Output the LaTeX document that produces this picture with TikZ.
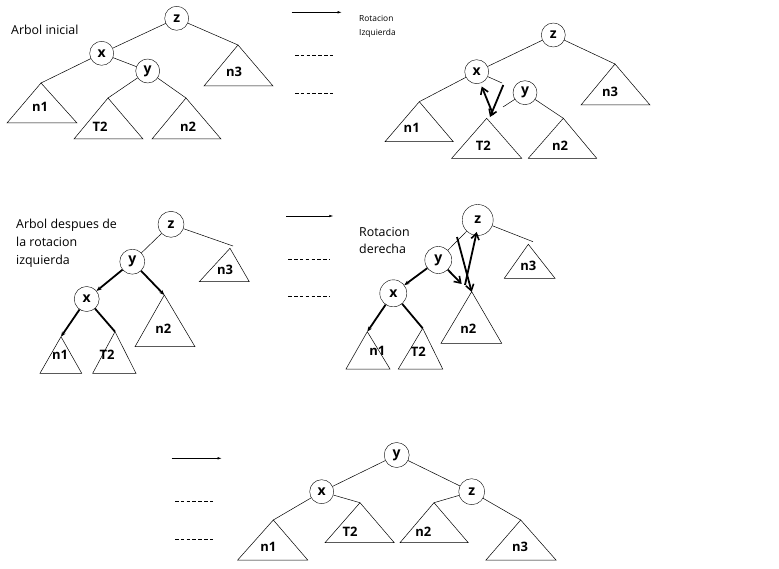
\documentclass[tikz,border=0pt]{standalone}
\usepackage{fontspec}
\setmainfont{Open Sans}
\usetikzlibrary{arrows.meta}
\begin{document}
\begin{tikzpicture}[x=1pt,y=-1pt,
  nd/.style={circle,draw,inner sep=0pt,minimum size=24pt,font=\fontsize{14}{14}\selectfont\bfseries},
  tri/.style={draw,line width=0.5pt},
  lnk/.style={line width=0.5pt},
  thk/.style={line width=1.8pt},
  handarr/.style={line width=1.8pt,-{Straight Barb[length=6pt,width=8pt,line width=1.6pt]}},
  thktip/.style={line width=1.8pt,-{Stealth[length=5pt,width=4pt]}},
  lab/.style={font=\fontsize{13}{13}\selectfont\bfseries,inner sep=0pt},
  captxt/.style={align=left,anchor=west,inner sep=0pt,font=\fontsize{12.4}{18.3}\selectfont},
  arr/.style={line width=0.5pt,-{Latex[length=4pt,width=2.5pt]}},
  dsh/.style={line width=0.5pt,dash pattern=on 3.5pt off 2.3pt}]
\fill[white] (0,0) rectangle (779,569);
\useasboundingbox (0,0) rectangle (779,569);

% ===== Panel 1: Arbol inicial
\node[captxt,font=\fontsize{12.4}{14}\selectfont] (c1) at (11,30) {Arbol inicial};
\node[nd] (az) at (176.7,18.3) {z};
\node[nd] (ax) at (101.7,53.3) {x};
\node[nd] (ay) at (147.7,71) {y};
\coordinate (a3) at (238,45);
\coordinate (a1) at (41,83);
\coordinate (a2) at (108,98);
\coordinate (a4) at (186,98);
\draw[tri] (a3) -- (204,86) -- (273,86) -- cycle;
\draw[tri] (a1) -- (7,123) -- (77,123) -- cycle;
\draw[tri] (a2) -- (74,139) -- (143,139) -- cycle;
\draw[tri] (a4) -- (152,139) -- (221,139) -- cycle;
\draw[lnk] (az) -- (ax);
\draw[lnk] (az) -- (a3);
\draw[lnk] (ax) -- (a1);
\draw[lnk] (ax) -- (ay);
\draw[lnk] (ay) -- (a2);
\draw[lnk] (ay) -- (a4);
\node[lab] (al1) at (40,107) {n1};
\node[lab] (al2) at (100,127) {T2};
\node[lab] (al3) at (188,127) {n2};
\node[lab] (al4) at (234,72) {n3};

% arrow column 1
\coordinate (r1a) at (291.7,12.3); \coordinate (r1b) at (341.7,12.3);
\draw[arr] (r1a) -- (r1b);
\coordinate (d1a) at (295,55); \coordinate (d1b) at (335,55);
\draw[dsh] (d1a) -- (d1b);
\coordinate (d2a) at (295,93.3); \coordinate (d2b) at (335,93.3);
\draw[dsh] (d2a) -- (d2b);
\node[captxt,font=\fontsize{8.4}{14}\selectfont] (c2) at (359,26.3) {Rotacion\\Izquierda};

% ===== Panel 2: rotacion izquierda (en proceso)
\node[nd] (bz) at (553.3,35) {z};
\node[nd] (bx) at (476.7,71.7) {x};
\node[nd] (by) at (525,92.7) {y};
\coordinate (b3) at (615,64);
\coordinate (b1) at (419.3,101.7);
\coordinate (b2) at (486.7,118.3);
\coordinate (b4) at (563.3,118.3);
\draw[tri] (b3) -- (581,105) -- (650,105) -- cycle;
\draw[tri] (b1) -- (385,141.7) -- (453.3,141.7) -- cycle;
\draw[tri] (b2) -- (451.7,158.3) -- (521.7,158.3) -- cycle;
\draw[tri] (b4) -- (528.3,158.3) -- (596.7,158.3) -- cycle;
\draw[lnk] (bz) -- (bx);
\draw[lnk] (bz) -- (b3);
\draw[lnk] (bx) -- (b1);
\coordinate (bxy) at (502,83);
\draw[lnk] (bx) -- (bxy);
\coordinate (byl) at (503,107);
\draw[lnk] (by) -- (byl);
\draw[lnk] (by) -- (b4);
\coordinate (h1a) at (493.3,115); \coordinate (h1b) at (481.7,86.5);
\draw[handarr] (h1a) -- (h1b);
\coordinate (h2a) at (503.3,85); \coordinate (h2b) at (490,117);
\draw[handarr] (h2a) -- (h2b);
\node[lab] (bl1) at (411.7,128.3) {n1};
\node[lab] (bl2) at (483.3,145.7) {T2};
\node[lab] (bl3) at (560,145.7) {n2};
\node[lab] (bl4) at (610,91.7) {n3};

% ===== Panel 3: Arbol despues de la rotacion izquierda
\node[captxt] (c3) at (16,243.3) {Arbol despues de\\la rotacion\\izquierda};
\node[nd,minimum size=26pt] (cz) at (171,224.3) {z};
\node[nd,minimum size=25pt] (cy) at (132.3,261.7) {y};
\node[nd,minimum size=25pt] (cx) at (86.7,299) {x};
\coordinate (c3t) at (230,248.3);
\coordinate (c2t) at (164.3,295);
\coordinate (c1t) at (61,336.7);
\coordinate (cTt) at (115,331.7);
\draw[tri] (c3t) -- (199.3,281.7) -- (249.3,281.7) -- cycle;
\draw[tri] (c2t) -- (135,346.7) -- (195,346.7) -- cycle;
\draw[tri] (c1t) -- (40,373.3) -- (81.7,373.3) -- cycle;
\draw[tri] (cTt) -- (92.7,373.3) -- (136,373.3) -- cycle;
\draw[lnk] (cz) -- (cy);
\coordinate (cz3) at (233,246);
\draw[lnk] (cz) -- (cz3);
\draw[thktip] (cy) -- (cx);
\draw[thktip] (cy) -- (c2t);
\draw[thktip] (cx) -- (c1t);
\draw[thk] (cx) -- (cTt);
\node[lab] (cl1) at (60,355) {n1};
\node[lab] (cl2) at (107,354.3) {T2};
\node[lab] (cl3) at (163.3,328.3) {n2};
\node[lab] (cl4) at (225,270) {n3};

% arrow column 2
\coordinate (r2a) at (286,216); \coordinate (r2b) at (333.3,216);
\draw[arr] (r2a) -- (r2b);
\coordinate (d3a) at (288.3,259.3); \coordinate (d3b) at (330,259.3);
\draw[dsh] (d3a) -- (d3b);
\coordinate (d4a) at (288.3,296.7); \coordinate (d4b) at (330,296.7);
\draw[dsh] (d4a) -- (d4b);
\node[captxt,font=\fontsize{12.4}{17.6}\selectfont] (c4) at (359,240.5) {Rotacion\\derecha};

% ===== Panel 4: rotacion derecha (en proceso)
\node[nd,minimum size=31pt] (dz) at (477.7,220) {z};
\node[nd,minimum size=27pt] (dy) at (438.3,260) {y};
\node[nd,minimum size=27pt] (dx) at (393.3,293.3) {x};
\coordinate (e3) at (528.3,244.3);
\coordinate (e2) at (471.7,291.7);
\coordinate (e1) at (367.3,331.7);
\coordinate (eT) at (422.7,328.3);
\draw[tri] (e3) -- (504.3,278.3) -- (555,278.3) -- cycle;
\draw[tri] (e2) -- (441,343.3) -- (501.7,343.3) -- cycle;
\draw[tri] (e1) -- (346,369) -- (390,369) -- cycle;
\draw[tri] (eT) -- (398.3,369) -- (442.7,369) -- cycle;
\draw[lnk] (dz) -- (dy);
\coordinate (dz3) at (533,241.7);
\draw[lnk] (dz) -- (dz3);
\draw[thktip] (dy) -- (dx);
\coordinate (dyr) at (461.7,284);
\draw[handarr] (dy) -- (dyr);
\draw[thktip] (dx) -- (e1);
\draw[thk] (dx) -- (eT);
\coordinate (k1a) at (457,237); \coordinate (k1b) at (471.7,292);
\draw[handarr] (k1a) -- (k1b);
\coordinate (k2a) at (465,285); \coordinate (k2b) at (476.7,232);
\draw[handarr] (k2a) -- (k2b);
\node[lab] (el1) at (377.3,351) {n1};
\node[lab] (el2) at (418.3,351.7) {T2};
\node[lab] (el3) at (468.3,328.3) {n2};
\node[lab] (el4) at (528.3,266) {n3};

% arrow column 3
\coordinate (r3a) at (171.7,458.3); \coordinate (r3b) at (221.7,458.3);
\draw[arr] (r3a) -- (r3b);
\coordinate (d5a) at (175,501.7); \coordinate (d5b) at (215,501.7);
\draw[dsh] (d5a) -- (d5b);
\coordinate (d6a) at (175,539); \coordinate (d6b) at (215,539);
\draw[dsh] (d6a) -- (d6b);

% ===== Panel 5: resultado
\node[nd,minimum size=25pt] (fy) at (396.7,455) {y};
\node[nd] (fx) at (321.7,491.7) {x};
\node[nd,minimum size=26pt] (fz) at (471.7,491.7) {z};
\coordinate (f1) at (273.3,520);
\coordinate (fT) at (360,502.7);
\coordinate (f2) at (434,502.7);
\coordinate (f3) at (520.7,520);
\draw[tri] (f1) -- (237.7,560) -- (307.7,560) -- cycle;
\draw[tri] (fT) -- (325,542.7) -- (394.3,542.7) -- cycle;
\draw[tri] (f2) -- (400,542.7) -- (468.3,542.7) -- cycle;
\draw[tri] (f3) -- (486,560) -- (556,560) -- cycle;
\draw[lnk] (fy) -- (fx);
\draw[lnk] (fy) -- (fz);
\draw[lnk] (fx) -- (f1);
\draw[lnk] (fx) -- (fT);
\draw[lnk] (fz) -- (f2);
\draw[lnk] (fz) -- (f3);
\node[lab] (fl1) at (268.3,546.7) {n1};
\node[lab] (fl2) at (350,531.7) {T2};
\node[lab] (fl3) at (423.3,531.7) {n2};
\node[lab] (fl4) at (520,546.7) {n3};
\end{tikzpicture}
\end{document}
